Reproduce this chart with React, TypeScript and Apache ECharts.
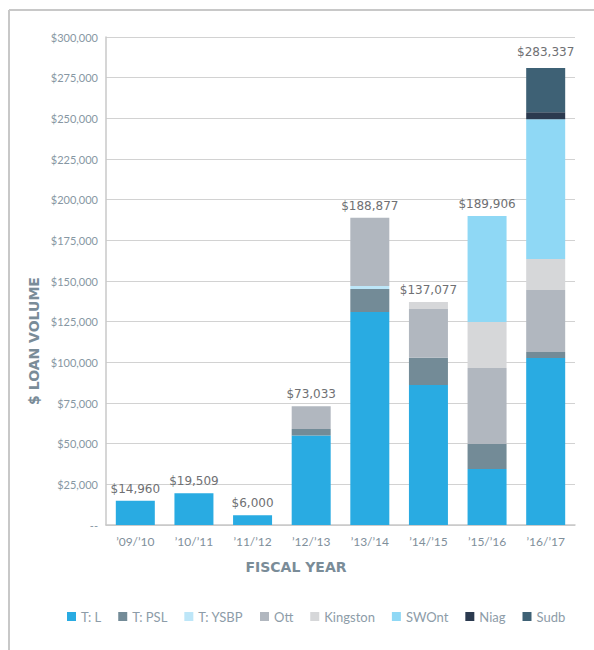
import React, { useEffect, useRef } from "react";
import * as echarts from "echarts";

const categories = ["’09/’10", "’10/’11", "’11/’12", "’12/’13", "’13/’14", "’14/’15", "’15/’16", "’16/’17"];
const totals = [14960, 19509, 6000, 73033, 188877, 137077, 189906, 283337];

const seriesNames = ["T: L", "T: PSL", "T: YSBP", "Ott", "Kingston", "SWOnt", "Niag", "Sudb"];
const tL = [14960, 19509, 6000, 55000, 131000, 86000, 34400, 102600];
const tPSL = [null, null, null, 4000, 14100, 16800, 15400, 3700];
const tYSBP = [null, null, null, null, 1800, null, null, null];
const ott = [null, null, null, 14033, 41977, 30000, 46700, 38100];
const kingston = [null, null, null, null, null, 4277, 28300, 19100];
const swont = [null, null, null, null, null, null, 65106, 86000];
const niag = [null, null, null, null, null, null, null, 4300];
const sudb = [null, null, null, null, null, null, null, 27100];
const seriesValues = [tL, tPSL, tYSBP, ott, kingston, swont, niag, sudb];
const seriesColors = ["#29abe2", "#738b97", "#bde6f8", "#b1b7bf", "#d6d7d9", "#8fd8f5", "#2b3a4f", "#3e6175"];

const yTicks = { min: 0, max: 300000, interval: 25000 };

export default function App() {
  const ref = useRef<HTMLDivElement>(null);
  useEffect(() => {
    if (!ref.current) return;
    const chart = echarts.init(ref.current, undefined, { renderer: "svg" });
    const stacked = seriesNames.map((name, i) => ({
      name,
      type: "bar",
      stack: "total",
      barWidth: 39,
      data: seriesValues[i],
      itemStyle: { color: seriesColors[i] },
      z: 3,
    }));
    chart.setOption({
      animation: false,
      backgroundColor: "#ffffff",
      grid: { left: 106, right: 19, top: 37, bottom: 125 },
      legend: {
        data: seriesNames,
        left: 62,
        top: 605,
        icon: "rect",
        itemWidth: 9,
        itemHeight: 9,
        itemGap: 17,
        textStyle: { fontFamily: "Lato", fontSize: 13, color: "#8d9ca8" },
      },
      xAxis: {
        type: "category",
        data: categories,
        axisLine: { show: true, lineStyle: { color: "#c8c8c8", width: 1.5 } },
        axisTick: { show: false },
        axisLabel: { margin: 10, fontFamily: "Lato", fontSize: 12, color: "#7f8f9b" },
      },
      yAxis: {
        type: "value",
        min: yTicks.min,
        max: yTicks.max,
        interval: yTicks.interval,
        axisLine: { show: true, lineStyle: { color: "#c8c8c8", width: 1.5 } },
        axisTick: { show: false },
        splitLine: { show: true, lineStyle: { color: "#d2d2d2", width: 1.2 } },
        axisLabel: {
          margin: 8,
          fontFamily: "Lato",
          fontSize: 11,
          color: "#8797a3",
          formatter: (v: number) => (v === 0 ? "--" : "$" + v.toLocaleString("en-US")),
        },
      },
      series: [
        ...stacked,
        {
          name: "Total",
          type: "bar",
          barWidth: 39,
          barGap: "-100%",
          data: totals,
          itemStyle: { color: "rgba(0,0,0,0)" },
          z: 1,
          label: {
            show: true,
            position: "top",
            distance: 6,
            fontFamily: "DejaVu Sans",
            fontSize: 12,
            color: "#6f7073",
            formatter: (p: any) => "$" + Number(p.value).toLocaleString("en-US"),
          },
        },
      ],
      graphic: [
        { type: "line", shape: { x1: 9, y1: 10, x2: 9, y2: 650 }, style: { stroke: "#c8c8c8", lineWidth: 2 } },
        { type: "line", shape: { x1: 9, y1: 10, x2: 594, y2: 10 }, style: { stroke: "#c8c8c8", lineWidth: 2 } },
        {
          type: "text",
          x: 34,
          y: 341,
          rotation: Math.PI / 2,
          style: {
            text: "$ LOAN VOLUME",
            fontFamily: "DejaVu Sans",
            fontWeight: "bold",
            fontSize: 14,
            fill: "#7a8c98",
            align: "center",
            verticalAlign: "middle",
          },
        },
        {
          type: "text",
          x: 296,
          y: 567,
          style: {
            text: "FISCAL YEAR",
            fontFamily: "DejaVu Sans",
            fontWeight: "bold",
            fontSize: 14,
            fill: "#7a8c98",
            align: "center",
            verticalAlign: "middle",
          },
        },
      ],
    });
    return () => chart.dispose();
  }, []);
  return (
    <div
      ref={ref}
      style={{ position: "absolute", left: 0, top: 0, width: 594, height: 650 }}
    />
  );
}
